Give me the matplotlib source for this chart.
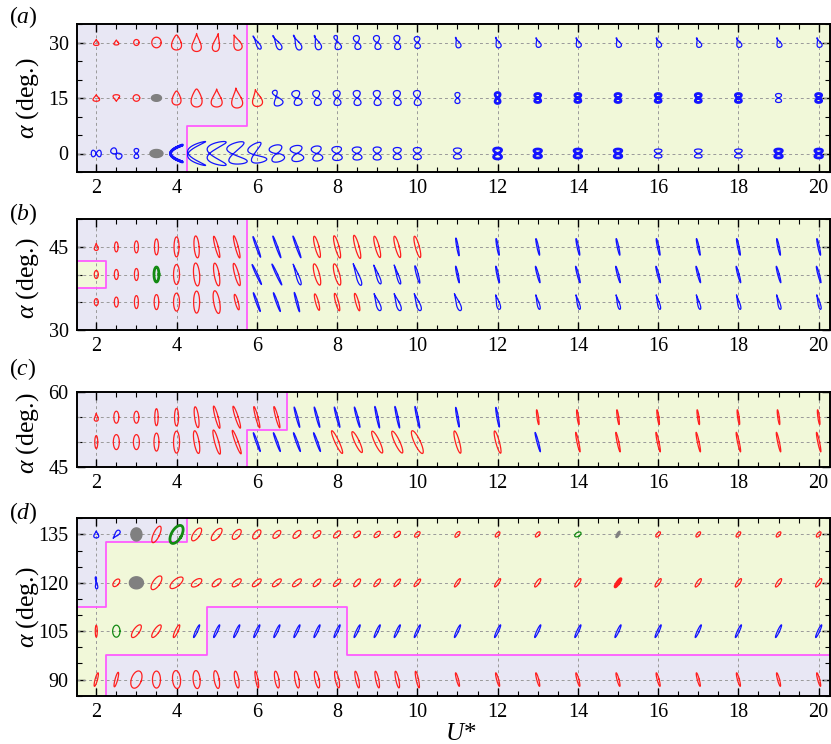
import numpy as np
import matplotlib
matplotlib.use("Agg")
import matplotlib.pyplot as plt
import matplotlib.transforms as mtransforms
from matplotlib.ticker import MultipleLocator

plt.rcParams['font.family'] = ['Liberation Serif', 'DejaVu Serif']
plt.rcParams['mathtext.fontset'] = 'custom'
plt.rcParams['mathtext.rm'] = 'Liberation Serif'
plt.rcParams['mathtext.it'] = 'Liberation Serif:italic'

# reduced velocities sampled in every row
U = [2, 2.5, 3, 3.5, 4, 4.5, 5, 5.5, 6, 6.5, 7, 7.5, 8, 8.5, 9, 9.5, 10,
     11, 12, 13, 14, 15, 16, 17, 18, 19, 20]

# per row: response regime (r/b/g/k, upper case = dense orbit), orbit shape,
# half amplitudes of the orbit (px) and inclination of the orbit (deg)
# ---- (a)
a30_mode = "r" * 8 + "b" * 19
a30_shape = "ddooDdddbbbbq8888" + "b" * 10
a30_ax = [2.7, 2.5, 2.7, 4.7, 5, 4.7, 3.5, 4, 1.8, 2.5, 2.8, 3, 3.2, 3, 3, 3, 2.8,
          2.5, 2.5, 2.5, 2.5, 2.5, 2.5, 2.5, 2.5, 2.5, 2.5]
a30_ay = [3, 2.5, 3, 5.3, 7.5, 9, 9, 8, 7.5, 8, 8, 7.5, 7.2, 7, 7, 7, 6,
          5.5, 5.5, 5, 5, 5, 5, 5, 5, 5, 5]
a30_tilt = [0, 0, 0, 0, 0, 0, -10, 20, 30, 30, 25, 20, 15, 10, 10, 5, 5,
            20, 20, 20, 20, 20, 20, 20, 20, 20, 20]

a15_mode = "rrrkrrrrr" + "b" * 9 + "B" * 7 + "bB"
a15_shape = "dvooDDdddq" + "8" * 17
a15_ax = [3.3, 3.3, 3.3, 5, 4.5, 5.5, 5.5, 5.5, 5, 4.5, 4, 3.5, 3.5, 3.5, 3.5, 3.5, 3.5,
          2.5, 2.5, 3, 3, 3, 3, 3, 3, 3, 3]
a15_ay = [3.3, 3.3, 3.3, 3.3, 7, 9, 9, 10, 8.5, 8, 7.5, 7.5, 7.5, 7.5, 7.5, 7.5, 7.5,
          5.5, 5.5, 4.5, 4.5, 4.5, 4.5, 4.5, 4.5, 4.5, 4.5]
a15_tilt = [0, 0, 0, 0, 0, 0, 0, 5, 10, 20, 15, 10, 5, 5, 5, 5, 5,
            0, 0, 0, 0, 0, 0, 0, 0, 0, 0]

a0_mode = "bbbkB" + "b" * 13 + "BBBB" + "bbb" + "BB"
a0_shape = "888o<cxzz" + "8" * 18
a0_ax = [3.3, 3, 2.3, 6.5, 6, 9, 9.5, 9, 7.5, 6.5, 6, 5, 4.8, 4.5, 4, 4, 4,
         4, 4, 3.8, 3.8, 3.8, 3.8, 3.8, 3.8, 3.8, 3.8]
a0_ay = [5, 6.5, 5, 4, 8.5, 12, 12, 11, 10, 8.5, 8, 7.5, 7, 6.5, 6.5, 6, 6,
         5.5, 5.5, 4.5, 4.5, 4.5, 4.5, 4.5, 4.5, 4.5, 4.5]
a0_tilt = [90, 45, 0, 0, 0, 0, 0, 10, 20, 15, 10, 10, 5, 5, 0, 0, 0,
           0, 0, 0, 0, 0, 0, 0, 0, 0, 0]

# ---- (b)
b45_mode = "rrrrrrrrbbbrrrrrrbbbbbbbbbb"
b45_shape = "d" + "o" * 26
b45_ax = [2, 1.8, 2, 2, 2.5, 2.5, 1.5, 1.5, 0.8, 0.8, 0.8, 2, 2, 2, 2, 2, 2,
          0.8, 0.8, 0.8, 0.8, 0.8, 0.8, 0.8, 0.8, 0.8, 0.8]
b45_ay = [3.5, 5, 6, 8, 10, 11, 11, 11.5, 11, 11.5, 11.5, 11, 11.5, 12, 11, 11, 11,
          9, 8.5, 8.5, 8.5, 8.5, 8.5, 8.5, 8.5, 8.5, 8.5]
b45_tilt = [0, 0, 0, 0, 0, 5, 15, 15, 20, 20, 20, 15, 15, 15, 15, 15, 15,
            10, 10, 12, 12, 12, 12, 12, 12, 12, 12]

b40_mode = "rrrGrrrrbbbrrbbbbbbbbbbbbbb"
b40_shape = "o" * 10 + "doodddoo" + "o" * 9
b40_ax = [2, 2, 2, 2.5, 3, 3, 2.5, 2, 0.8, 0.8, 1.5, 2.5, 2.5, 1.8, 1.5, 1.2, 1,
          0.8, 0.8, 0.8, 0.8, 0.8, 0.8, 0.8, 0.8, 0.8, 0.8]
b40_ay = [4, 5, 6, 7.5, 10, 11.5, 11.5, 11.5, 11, 11.5, 11, 11, 11, 11.5, 10, 10, 9,
          8.5, 8.5, 8.5, 8.5, 8.5, 8.5, 8.5, 8.5, 8.5, 8.5]
b40_tilt = [0, 0, 0, 0, 0, 5, 10, 15, 25, 25, 20, 15, 15, 20, 20, 18, 15,
            12, 12, 15, 15, 15, 15, 15, 15, 15, 15]

b35_mode = "rrrrrrrrbbbrrrbbbbbbbbbbbbb"
b35_shape = "o" * 14 + "d" * 13
b35_ax = [2, 2, 2, 2.3, 3, 3, 3, 1.5, 0.8, 0.8, 0.8, 1.5, 1.5, 1.5, 2, 2, 2,
          2, 1.8, 1.2, 1.2, 1.2, 1.2, 1.2, 1.2, 1.2, 1.2]
b35_ay = [3.5, 5, 6.5, 7.5, 9, 11, 11.5, 8, 10, 10, 10, 8.5, 9, 9, 9, 9, 9,
          9, 7.5, 7.5, 7.5, 7.5, 7.5, 7.5, 7.5, 7.5, 7.5]
b35_tilt = [0, 0, 0, 0, 0, 0, 10, 15, 20, 20, 15, 15, 15, 15, 20, 20, 20,
            20, 15, 15, 15, 15, 15, 15, 15, 15, 15]

# ---- (c)
c55_mode = "r" * 10 + "b" * 9 + "r" * 8
c55_shape = "d" + "o" * 26
c55_ax = [2, 2.5, 2.5, 1.7, 2, 2, 1.5, 1.5, 1.2, 1.2, 0.8, 0.8, 0.8, 0.8, 0.8, 0.8, 0.8,
          0.8, 0.8, 0.8, 0.8, 0.8, 0.8, 0.8, 0.8, 0.8, 0.8]
c55_ay = [4, 6, 6, 8.5, 8.8, 10.5, 11.5, 11.5, 11, 11, 10.5, 10.5, 10.5, 10.5, 11, 11, 11,
          10, 10, 7.5, 7.5, 7.5, 7.5, 7.5, 7.5, 7.5, 7.5]
c55_tilt = [0, 0, 0, 0, 0, 8, 15, 18, 15, 15, 15, 15, 15, 15, 12, 12, 12,
            10, 10, 8, 8, 8, 8, 8, 8, 8, 8]

c50_mode = "rrrrrrrrbbbbrrrrrrrbrrrrrrr"
c50_shape = "o" * 27
c50_ax = [1.5, 3, 3, 2.5, 3, 2.5, 2, 1.5, 0.8, 0.8, 0.8, 0.8, 2, 2.3, 2.5, 2.5, 3,
          2, 1.8, 0.8, 0.9, 0.9, 0.9, 0.9, 0.9, 0.9, 0.9]
c50_ay = [6.5, 7.5, 7.5, 9, 11, 11.5, 12.5, 12.5, 10, 10, 10, 10, 12.5, 11.5, 12, 12, 12.5,
          11.5, 11.5, 10, 10, 10, 10, 10, 10, 10, 10]
c50_tilt = [0, 0, 0, 0, 0, 10, 15, 20, 20, 20, 20, 20, 25, 25, 25, 25, 25,
            15, 15, 15, 12, 12, 12, 12, 12, 12, 12]

# ---- (d)
d135_mode = "bbkrG" + "r" * 15 + "gk" + "r" * 5
d135_shape = "dv" + "o" * 25
d135_ax = [2.5, 2, 5.5, 3, 5, 3.2, 3.2, 3, 2.8, 2.5, 2.5, 2.5, 2.2, 2.2, 2, 2, 1.8,
           1.6, 1.5, 1.5, 2, 1.2, 1.5, 1.5, 1.5, 1.5, 1.5]
d135_ay = [3.5, 5, 6.5, 9, 10, 7.5, 7.5, 6, 5.5, 5, 5, 4.8, 4.5, 4.2, 4, 4, 3.5,
           3.5, 3.2, 3.2, 3.5, 3.5, 3.2, 3.2, 3.2, 3.2, 3.2]
d135_tilt = [0, -40, 0, -25, -30, -35, -40, -40, -40, -45, -45, -45, -45, -45, -45, -45, -45,
             -40, -40, -40, -60, -30, -40, -40, -40, -40, -40]

d120_mode = "brk" + "r" * 18 + "R" + "r" * 5
d120_shape = "q" + "o" * 26
d120_ax = [1.2, 2.5, 7, 3.5, 3.5, 3, 2.5, 2.5, 2.2, 2.2, 2.2, 2, 2, 2, 1.8, 1.5, 1.5,
           1.3, 1.3, 1.5, 1.5, 1.0, 1.5, 1.5, 1.5, 1.5, 1.5]
d120_ay = [6, 4.5, 6, 8, 8, 6, 5.5, 5.5, 5.5, 5.5, 5.5, 5, 4.8, 4.8, 4.8, 4.8, 4.8,
           5, 5, 5, 5, 5, 5, 5, 5, 5, 5]
d120_tilt = [5, -40, 0, -35, -50, -55, -50, -50, -50, -50, -50, -45, -45, -40, -40, -40, -40,
             -35, -35, -35, -35, -35, -35, -35, -35, -35, -35]

d105_mode = "rgrrr" + "b" * 22
d105_shape = "o" * 27
d105_ax = [1, 3.7, 3, 2.5, 1.5] + [1] * 22
d105_ay = [6, 6, 7.5, 7.5, 7] + [7] * 22
d105_tilt = [0, 0, -35, -35, -25] + [-25] * 22

d90_mode = "r" * 27
d90_shape = "o" * 27
d90_ax = [1.2, 1.3, 5, 4, 4, 3.5, 2.5, 2, 1.2, 2, 2, 2, 1.8, 1.5, 1.5, 1.5, 1.2,
          1, 1, 1, 1, 1, 1, 1, 1, 1, 1]
d90_ay = [7, 7.5, 9, 8.5, 9, 9, 9, 8.5, 8.5, 8.5, 8.5, 8.5, 8.5, 8.5, 8.5, 8.5, 8.5,
          7, 7, 7, 7, 7, 7, 7, 7, 7, 7]
d90_tilt = [-15, -15, -20, 0, 5, 5, 10, 10, 10, 10, 10, 12, 12, 12, 12, 12, 12,
            15, 15, 15, 15, 15, 15, 15, 15, 15, 15]

# regime boundaries (U*, alpha) and axis ranges
a_bound = [(4.25, -5), (4.25, 7.5), (5.75, 7.5), (5.75, 35)]
b_bound = [(5.75, 30), (5.75, 50)]
b_box = [(0, 42.5), (2.25, 42.5), (2.25, 37.5), (0, 37.5)]
c_bound = [(5.75, 45), (5.75, 52.5), (6.75, 52.5), (6.75, 60)]
d_bound_top = [(0, 112.5), (2.25, 112.5), (2.25, 132.5), (4.25, 132.5), (4.25, 140)]
d_bound_low = [(2.25, 85), (2.25, 97.5), (4.75, 97.5), (4.75, 112.5),
               (8.25, 112.5), (8.25, 97.5), (25, 97.5)]

COLORS = {'r': '#ff1f1f', 'b': '#1414ff', 'g': '#138a13', 'k': '#808080'}
SHAPES = {'o': (1.0, 0.0), 'D': (0.8, np.pi), 'd': (0.67, np.pi), 'v': (0.67, 0.0),
          '8': (0.0, 0.0), 'b': (0.55, np.pi), 'q': (0.3, np.pi),
          '<': (0.0, -np.pi / 2), 'c': (0.0, -1.25), 'x': (0.0, -0.85), 'z': (0.0, -0.45)}
LAV = '#e8e7f4'
GRN = '#f1f8d9'
MAG = '#ff5cff'

W, H = 831, 744
fig = plt.figure(figsize=(W / 100, H / 100), dpi=100)


def px(x, y):
    return x / W, 1 - y / H


def orbit(shape, hx, hy, tilt):
    s, p = SHAPES[shape]
    t = np.linspace(0, 2 * np.pi, 241)
    fx = s * np.cos(t) + (1 - s) * np.sin(2 * t + p)
    x = hx * fx / np.abs(fx).max()
    y = hy * np.sin(t)
    if shape == '8':
        # rounder lobes so the orbit reads as a figure of eight
        y = y * np.abs(np.sin(t)) ** 0.35
    th = np.radians(tilt)
    xr = x * np.cos(th) - y * np.sin(th)
    yr = x * np.sin(th) + y * np.cos(th)
    return xr / 100, yr / 100


def draw_row(ax, alpha, mode, shape, hx, hy, tilt):
    ax.axhline(alpha, color='#9a9a9a', lw=0.7, ls=(0, (3, 3)), zorder=0.6)
    for u, m, s, w, h, th in zip(U, mode, shape, hx, hy, tilt):
        x, y = orbit(s, w, h, th)
        tr = fig.dpi_scale_trans + mtransforms.ScaledTranslation(u, alpha, ax.transData)
        col = COLORS[m.lower()]
        if m.lower() == 'k':
            ax.fill(x, y, transform=tr, fc=col, ec=col, lw=1.0, zorder=4)
        else:
            ax.plot(x, y, transform=tr, color=col, lw=2.0 if m.isupper() else 0.9,
                    zorder=4, solid_joinstyle='round')


def panel(top, bottom, ylim, label, label_y, ylab_y):
    x0, y0 = px(77, bottom)
    ax = fig.add_axes([x0, y0, (829.5 - 77) / W, (bottom - top) / H])
    ax.set_autoscale_on(False)
    ax.set_xlim(1.52, 20.27)
    ax.set_ylim(*ylim)
    ax.set_facecolor(GRN)
    ax.xaxis.set_major_locator(MultipleLocator(2))
    ax.xaxis.set_minor_locator(MultipleLocator(0.5))
    ax.yaxis.set_major_locator(MultipleLocator(15))
    ax.yaxis.set_minor_locator(MultipleLocator(5))
    ax.tick_params(which='both', direction='in', top=True, right=True, labelsize=14.5)
    ax.tick_params(which='major', length=6, width=1.0)
    ax.tick_params(which='minor', length=3.5, width=0.8)
    ax.tick_params(axis='x', pad=5)
    ax.tick_params(axis='y', pad=6)
    for sp in ax.spines.values():
        sp.set_linewidth(1.4)
    ax.set_axisbelow(True)
    ax.grid(axis='x', which='major', color='#9a9a9a', lw=0.7, ls=(0, (3, 3)))
    fig.text(*px(23, label_y), label, ha='center', va='center', fontsize=17)
    fig.text(*px(28, ylab_y), r'$\alpha$ (deg.)', rotation=90,
             ha='center', va='center', fontsize=18.5)
    return ax


def boundary(ax, pts):
    xs, ys = zip(*pts)
    ax.plot(xs, ys, color=MAG, lw=1.3, zorder=2)


# (a)
axa = panel(24, 172, (-5, 35), r'$(a)$', 17, 98)
axa.fill([0, 4.25, 4.25, 5.75, 5.75, 0], [-5, -5, 7.5, 7.5, 35, 35], color=LAV, lw=0, zorder=0.1)
boundary(axa, a_bound)
draw_row(axa, 30, a30_mode, a30_shape, a30_ax, a30_ay, a30_tilt)
draw_row(axa, 15, a15_mode, a15_shape, a15_ax, a15_ay, a15_tilt)
draw_row(axa, 0, a0_mode, a0_shape, a0_ax, a0_ay, a0_tilt)

# (b)
axb = panel(219.3, 329.7, (30, 50), r'$(b)$', 214, 278)
axb.fill([0, 5.75, 5.75, 0], [30, 30, 50, 50], color=LAV, lw=0, zorder=0.1)
axb.fill([0, 2.25, 2.25, 0], [37.5, 37.5, 42.5, 42.5], color=GRN, lw=0, zorder=0.2)
boundary(axb, b_bound)
boundary(axb, b_box)
draw_row(axb, 45, b45_mode, b45_shape, b45_ax, b45_ay, b45_tilt)
draw_row(axb, 40, b40_mode, b40_shape, b40_ax, b40_ay, b40_tilt)
draw_row(axb, 35, b35_mode, b35_shape, b35_ax, b35_ay, b35_tilt)

# (c)
axc = panel(392.3, 467, (45, 60), r'$(c)$', 369, 433)
axc.fill([0, 5.75, 5.75, 6.75, 6.75, 0], [45, 45, 52.5, 52.5, 60, 60], color=LAV, lw=0, zorder=0.1)
boundary(axc, c_bound)
draw_row(axc, 55, c55_mode, c55_shape, c55_ax, c55_ay, c55_tilt)
draw_row(axc, 50, c50_mode, c50_shape, c50_ax, c50_ay, c50_tilt)

# (d)
axd = panel(518.3, 695.7, (85, 140), r'$(d)$', 513, 607)
tx, ty = zip(*(d_bound_top + [(0, 140)]))
axd.fill(tx, ty, color=LAV, lw=0, zorder=0.1)
lx, ly = zip(*(d_bound_low + [(25, 85)]))
axd.fill(lx, ly, color=LAV, lw=0, zorder=0.1)
boundary(axd, d_bound_top)
boundary(axd, d_bound_low)
draw_row(axd, 135, d135_mode, d135_shape, d135_ax, d135_ay, d135_tilt)
draw_row(axd, 120, d120_mode, d120_shape, d120_ax, d120_ay, d120_tilt)
draw_row(axd, 105, d105_mode, d105_shape, d105_ax, d105_ay, d105_tilt)
draw_row(axd, 90, d90_mode, d90_shape, d90_ax, d90_ay, d90_tilt)

fig.text(*px(461, 734), r'$U$*', ha='center', va='center', fontsize=18)

fig.savefig('out.png', dpi=100)
